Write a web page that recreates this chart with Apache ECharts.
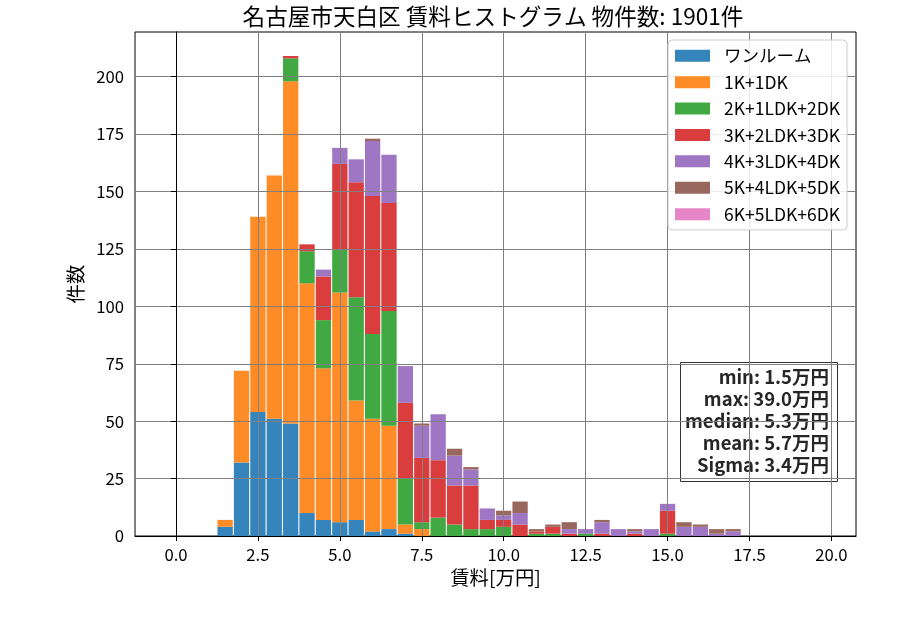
<!DOCTYPE html>
<html><head><meta charset="utf-8">
<script src="https://cdn.jsdelivr.net/npm/echarts@6/dist/echarts.min.js"></script>
<style>html,body{margin:0;padding:0;background:#fff}#c{width:900px;height:630px}</style>
</head><body><div id="c"></div>
<script>
const titleText = '名古屋市天白区 賃料ヒストグラム 物件数: 1901件';
const xName = '賃料[万円]';
const yName = '件数';
const binCenters = [1.5,2.0,2.5,3.0,3.5,4.0,4.5,5.0,5.5,6.0,6.5,7.0,7.5,8.0,8.5,9.0,9.5,10.0,10.5,11.0,11.5,12.0,12.5,13.0,13.5,14.0,14.5,15.0,15.5,16.0,16.5,17.0];
const seriesNames = ['ワンルーム','1K+1DK','2K+1LDK+2DK','3K+2LDK+3DK','4K+3LDK+4DK','5K+4LDK+5DK','6K+5LDK+6DK'];
const oneRoom = [4,32,54,51,49,10,7,6,7,2,3,1,0,0,0,0,0,0,0,0,0,0,0,0,0,0,0,0,0,0,0,0];
const k1dk    = [3,40,85,106,149,100,66,100,52,49,45,4,3,0,0,0,0,0,0,0,0,0,0,0,0,0,0,0,0,0,0,0];
const k2ldk   = [0,0,0,0,10,14,21,19,45,37,50,20,3,8,5,3,3,4,0,1,1,0,1,0,0,0,0,1,0,0,0,0];
const k3ldk   = [0,0,0,0,1,3,19,37,50,60,47,33,28,25,17,19,4,3,5,1,3,1,0,1,0,1,0,10,0,0,0,0];
const k4ldk   = [0,0,0,0,0,0,3,7,10,24,21,16,14,20,13,7,5,2,5,0,0,2,2,5,3,1,3,3,4,4,1,2];
const k5ldk   = [0,0,0,0,0,0,0,0,0,1,0,0,1,0,3,1,0,2,5,1,1,3,0,1,0,1,0,0,2,1,2,1];
const k6ldk   = [0,0,0,0,0,0,0,0,0,0,0,0,0,0,0,0,0,0,0,0,0,0,0,0,0,0,0,0,0,0,0,0];
const xTicks = [0,2.5,5,7.5,10,12.5,15,17.5,20];
const yTicks = [0,25,50,75,100,125,150,175,200];
const statsLines = ['min: 1.5万円','max: 39.0万円','median: 5.3万円','mean: 5.7万円','Sigma: 3.4万円'];

const seriesValues = [oneRoom,k1dk,k2ldk,k3ldk,k4ldk,k5ldk,k6ldk];
const colors = ['#3585BC','#FF8C26','#41A941','#DA3D3E','#9F76C4','#98675D','#E685C8'];
const FONT = '"Noto Sans CJK JP", "Noto Sans", sans-serif';

const chart = echarts.init(document.getElementById('c'), null, {renderer:'canvas'});
chart.setOption({
  animation:false,
  backgroundColor:'#fff',
  textStyle:{fontFamily:FONT},
  title:{
    text:titleText, left:493, top:5, padding:0, textAlign:'center',
    textStyle:{fontFamily:FONT, fontSize:22.6, fontWeight:'normal', color:'#000'}
  },
  grid:{left:135, right:44, top:32, bottom:94, show:true, borderColor:'#000', borderWidth:1, backgroundColor:'transparent'},
  legend:{
    orient:'vertical', left:668, top:40, z:10,
    padding:[7,7,7,7], itemWidth:35, itemHeight:12, itemGap:8.9,
    backgroundColor:'rgba(255,255,255,0.85)', borderColor:'#cccccc', borderWidth:1, borderRadius:4,
    icon:'rect',
    textStyle:{fontFamily:FONT, fontSize:17.5, color:'#000', lineHeight:16, padding:[0,0,0,9]},
    data:seriesNames
  },
  xAxis:{
    type:'value', min:-1.25, max:20.75, z:5,
    name:xName, nameLocation:'middle', nameGap:30,
    nameTextStyle:{fontFamily:FONT, fontSize:19.4, color:'#000'},
    axisLine:{show:true, onZero:false, lineStyle:{color:'#000', width:1}},
    axisTick:{show:true, length:5, lineStyle:{color:'#000'}, customValues:xTicks},
    axisLabel:{fontFamily:FONT, fontSize:16.7, color:'#000', margin:10, customValues:xTicks,
      formatter:v=>v.toFixed(1)},
    splitLine:{show:true, lineStyle:{color:'#808080', width:1}}
  },
  yAxis:{
    type:'value', min:0, max:219.45, z:5,
    name:yName, nameLocation:'middle', nameGap:48,
    nameTextStyle:{fontFamily:FONT, fontSize:19.4, color:'#000'},
    axisLine:{show:true, lineStyle:{color:'#000', width:1}},
    axisTick:{show:true, length:5, lineStyle:{color:'#000'}, customValues:yTicks},
    axisLabel:{fontFamily:FONT, fontSize:16.7, color:'#000', margin:11, customValues:yTicks},
    splitLine:{show:true, lineStyle:{color:'#808080', width:1}}
  },
  series: seriesNames.map((name,i)=>({
    name, type:'bar', stack:'total', barWidth:15.3,
    itemStyle:{color:colors[i]},
    encode:{x:1, y:0},
    data: binCenters.map((x,j)=>[seriesValues[i][j], x])
  })),
  graphic:[{
    type:'group', z:20,
    children:[
      {type:'rect', shape:{x:680.5, y:362.5, width:157, height:119},
       style:{fill:'rgba(255,255,255,0.9)', stroke:'#333', lineWidth:1}},
      {type:'text', x:829, y:366.5,
       style:{text:statsLines.join('\n'), font:'bold 18.5px '+FONT, fill:'#262626',
              align:'right', verticalAlign:'top', lineHeight:21.9}}
    ]
  }]
});
</script></body></html>
